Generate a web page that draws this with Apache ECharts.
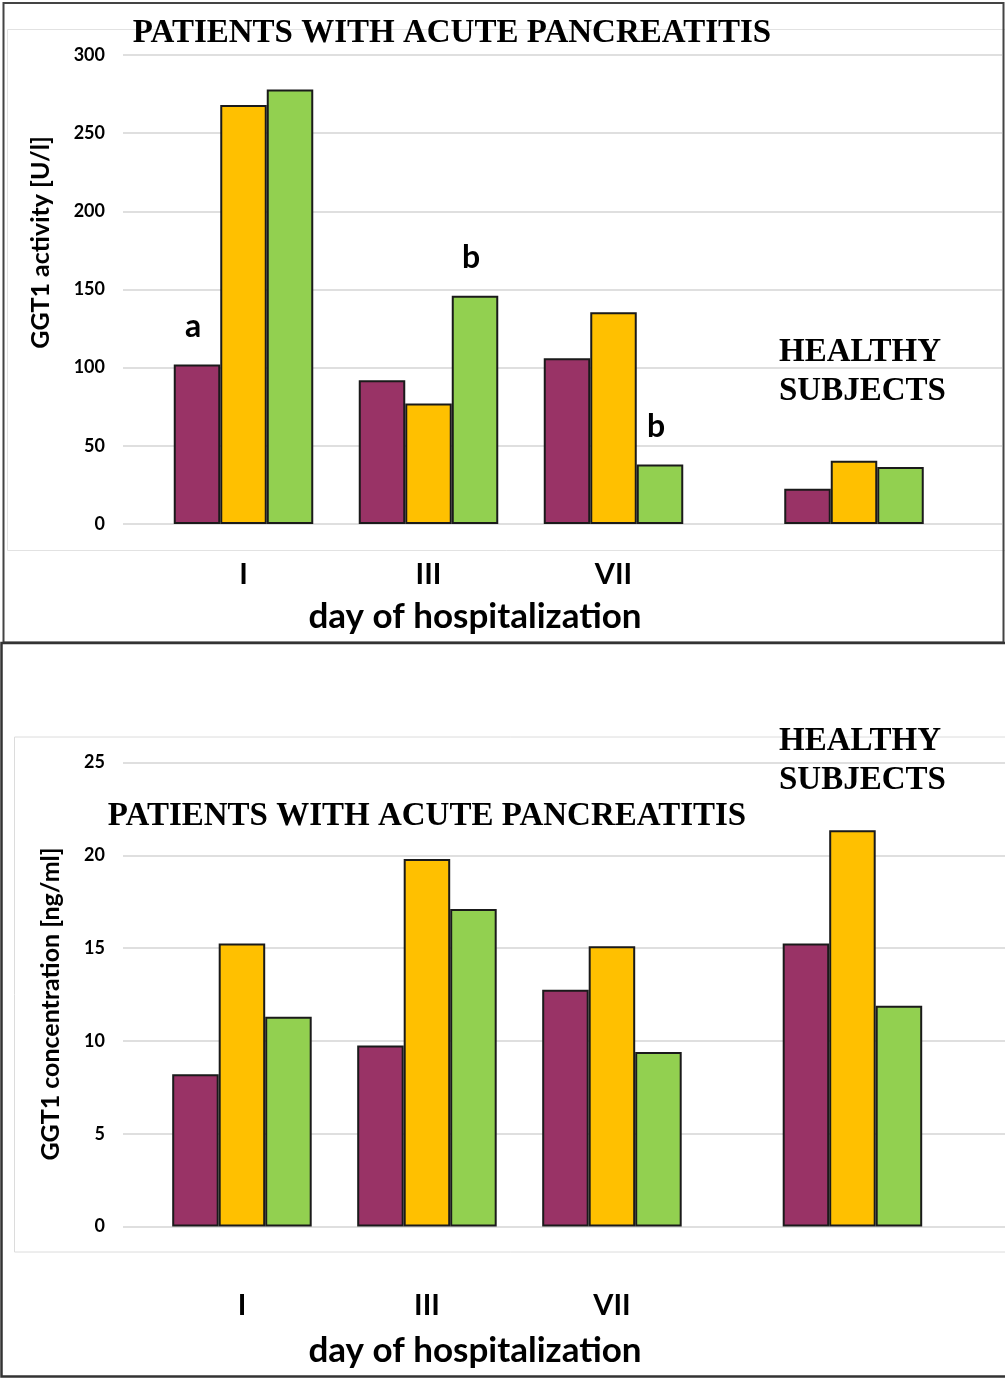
<!DOCTYPE html>
<html>
<head>
<meta charset="utf-8">
<script src="https://cdn.jsdelivr.net/npm/echarts@6/dist/echarts.min.js"></script>
<style>
  html, body { margin: 0; padding: 0; background: #ffffff; }
  #chart { width: 1005px; height: 1378px; }
</style>
</head>
<body>
<div id="chart"></div>
<script>
// ---- data ----
const groups = ['I', 'III', 'VII', 'HEALTHY SUBJECTS'];
const groupPos = [1, 2, 3, 4.3];           // position of each group on the x scale
const dayTicks = [1, 2, 3];                 // groups that get a day label

const activityPurple = [102, 92, 106, 22.5];
const activityOrange = [268, 77, 135.5, 40.5];
const activityGreen  = [278, 146, 38, 36.5];
const activityMarks = [['a', '', '', ''], ['', '', '', ''], ['', 'b', 'b', '']];

const concPurple = [8.2, 9.75, 12.75, 15.25];
const concOrange = [15.25, 19.8, 15.1, 21.35];
const concGreen  = [11.3, 17.1, 9.4, 11.9];

const activityTicks = [0, 50, 100, 150, 200, 250, 300];
const concTicks = [0, 5, 10, 15, 20, 25];

// ---- styles ----
const colors = ['#993366', '#FFC000', '#92D050'];
const sans = 'Lato';
const serif = 'Liberation Serif';

function buildData(values, marks) {
  return values.map((v, i) => {
    const item = { value: [groupPos[i], v] };
    if (marks && marks[i]) {
      item.label = {
        show: true, position: 'top', distance: 22, offset: [-4, 0],
        formatter: marks[i], fontFamily: sans, fontWeight: 'bold',
        fontSize: 32, color: '#000'
      };
    }
    return item;
  });
}

function barSeries(values, colorIdx, axisIdx, marks) {
  return {
    type: 'bar', name: 'Series ' + (colorIdx + 1),
    xAxisIndex: axisIdx, yAxisIndex: axisIdx,
    data: buildData(values, marks),
    barWidth: 46.5, barGap: '0%',
    itemStyle: { color: colors[colorIdx], borderColor: '#1a1a1a', borderWidth: 2 },
    emphasis: { disabled: true },
    animation: false
  };
}

function xAxisDef(gridIndex, min, max, margin) {
  return {
    type: 'value', gridIndex, min, max,
    axisLine: { show: false }, axisTick: { show: false }, splitLine: { show: false },
    axisLabel: {
      customValues: dayTicks, margin,
      formatter: v => groups[groupPos.indexOf(v)] || '',
      fontFamily: sans, fontWeight: 'bold', fontSize: 29, color: '#000'
    }
  };
}

function yAxisDef(gridIndex, ticks) {
  return {
    type: 'value', gridIndex,
    min: ticks[0], max: ticks[ticks.length - 1], interval: ticks[1] - ticks[0],
    axisLine: { show: false }, axisTick: { show: false },
    splitLine: { show: true, lineStyle: { color: '#d4d4d4', width: 1.5 } },
    axisLabel: { margin: 18, fontFamily: sans, fontWeight: 'bold', fontSize: 18, color: '#000' }
  };
}

function txt(text, x, y, font, opts) {
  return {
    type: 'text', x, y, silent: true,
    style: Object.assign({ text, font, fill: '#000', textAlign: 'left', textVerticalAlign: 'middle' }, opts || {})
  };
}

const titleFont = 'bold 33px "' + serif + '"';
const nameFont = 'bold 25px ' + sans;
const dayNameFont = 'bold 35px ' + sans;

const chart = echarts.init(document.getElementById('chart'), null, { renderer: 'canvas' });
chart.setOption({
  backgroundColor: '#ffffff',
  animation: false,
  grid: [
    { left: 123, top: 55, width: 879, height: 469 },
    { left: 123, top: 762.5, width: 882, height: 464 }
  ],
  xAxis: [
    xAxisDef(0, 0.3486, 5.1, 36),
    xAxisDef(1, 0.357, 5.1246, 65)
  ],
  yAxis: [
    yAxisDef(0, activityTicks),
    yAxisDef(1, concTicks)
  ],
  series: [
    barSeries(activityPurple, 0, 0, activityMarks[0]),
    barSeries(activityOrange, 1, 0, activityMarks[1]),
    barSeries(activityGreen, 2, 0, activityMarks[2]),
    barSeries(concPurple, 0, 1),
    barSeries(concOrange, 1, 1),
    barSeries(concGreen, 2, 1)
  ],
  graphic: [
    // chart-area frames
    { type: 'rect', z: -10, silent: true, shape: { x: 7.5, y: 29.5, width: 1000, height: 521 },
      style: { fill: null, stroke: '#e2e2e2', lineWidth: 1 } },
    { type: 'rect', z: -10, silent: true, shape: { x: 14.5, y: 737, width: 1000, height: 515 },
      style: { fill: null, stroke: '#dcdcdc', lineWidth: 1 } },
    // panel borders
    { type: 'rect', z: 100, silent: true, shape: { x: 3.5, y: 3, width: 1000, height: 639.5 },
      style: { fill: null, stroke: '#444', lineWidth: 2 } },
    { type: 'rect', z: 100, silent: true, shape: { x: 1.5, y: 643, width: 1010, height: 733.5 },
      style: { fill: null, stroke: '#333', lineWidth: 2.5 } },
    // titles
    txt('PATIENTS WITH ACUTE PANCREATITIS', 452, 33, titleFont, { textAlign: 'center' }),
    txt('HEALTHY', 779, 352, titleFont),
    txt('SUBJECTS', 779, 391.5, titleFont),
    txt('PATIENTS WITH ACUTE PANCREATITIS', 427, 816.5, titleFont, { textAlign: 'center' }),
    txt('HEALTHY', 779, 741, titleFont),
    txt('SUBJECTS', 779, 780, titleFont),
    // axis names
    Object.assign(txt('GGT1 activity [U/l]', 41, 242.5, nameFont, { textAlign: 'center' }), { rotation: Math.PI / 2 }),
    Object.assign(txt('GGT1 concentration [ng/ml]', 51, 1004, nameFont, { textAlign: 'center' }), { rotation: Math.PI / 2 }),
    txt('day of hospitalization', 475, 617, dayNameFont, { textAlign: 'center' }),
    txt('day of hospitalization', 475, 1351, dayNameFont, { textAlign: 'center' })
  ]
});
</script>
</body>
</html>
